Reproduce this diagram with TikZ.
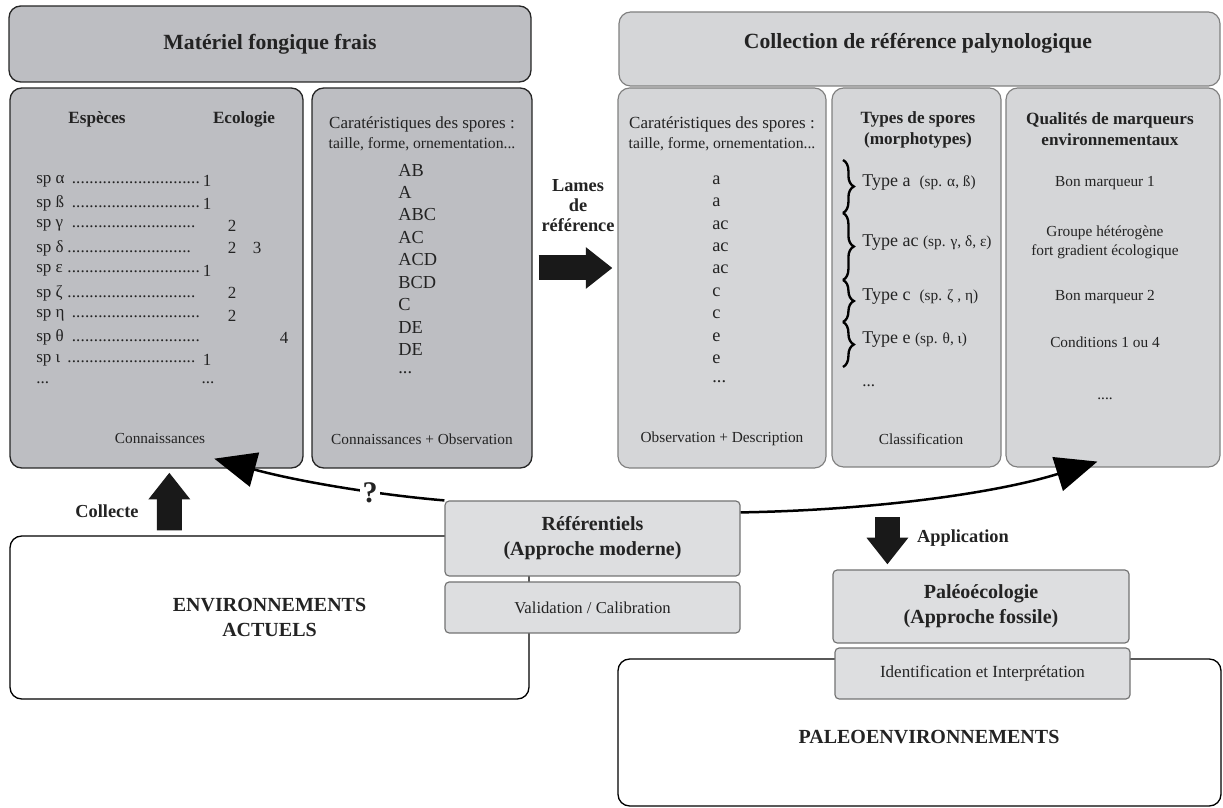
\documentclass[tikz,border=0pt]{standalone}
\usepackage{fontspec}
\setmainfont{Liberation Serif}
\usetikzlibrary{arrows.meta, positioning, calc, decorations.pathreplacing}

\definecolor{fungray}{RGB}{189,190,194}
\definecolor{palgray}{RGB}{213,214,216}
\definecolor{refgray}{RGB}{221,222,224}
\definecolor{inkgray}{RGB}{35,35,35}

\newcommand{\fsz}[2]{\fontsize{#1}{#2}\selectfont}
\newcommand{\pts}{\leaders\hbox to 0.26em{\hss.\hss}\hfill}

\begin{document}
\begin{tikzpicture}[x=0.6pt, y=-0.6pt,
    every node/.style={inner sep=0pt, text=inkgray},
    fungbox/.style={draw=black!85, fill=fungray, rounded corners=7pt, line width=0.8pt},
    palbox/.style={draw=black!50, fill=palgray, rounded corners=7pt, line width=0.7pt},
    refbox/.style={draw=black!55, fill=refgray, rounded corners=2.5pt, line width=0.7pt},
    envbox/.style={draw=black, fill=white, rounded corners=7pt, line width=0.8pt},
    blockarrow/.style={line width=15pt, draw=black!90, -{Triangle[length=16pt, width=24pt]}},
    curvearrow/.style={line width=1.5pt, -{Triangle[length=25pt, width=21pt]}},
    body/.style={font=\fsz{10.2}{13}},
    letters/.style={font=\fsz{11}{13}, anchor=west},
    smalltxt/.style={font=\fsz{9.2}{11.4}, align=center},
    hdtxt/.style={font=\bfseries\fsz{10.3}{12.6}, align=center},
    title/.style={font=\bfseries\fsz{13}{16}},
    bigtxt/.style={font=\bfseries\fsz{12}{15}, align=center},
    labtxt/.style={font=\bfseries\fsz{11}{12}, align=center}]
    \useasboundingbox (0,0) rectangle (1223,808);

    % en-tetes
    \node[fungbox, title, minimum width=313.2pt, minimum height=45.6pt] (hdrF) at (270,44) {Matériel fongique frais};
    \node[palbox, minimum width=360.6pt, minimum height=44.4pt] (hdrP) at (919.5,49) {};
    \node[title] (tP) at (918,43) {Collection de référence palynologique};

    % panneaux
    \node[fungbox, minimum width=175.8pt, minimum height=228pt] (pEsp) at (156.5,278) {};
    \node[fungbox, minimum width=132pt, minimum height=228pt] (pCarF) at (422,278) {};
    \node[palbox, minimum width=124.8pt, minimum height=228pt] (pCarP) at (722,278) {};
    \node[palbox, minimum width=101.4pt, minimum height=227.4pt] (pTyp) at (916.5,277.5) {};
    \node[palbox, minimum width=128.4pt, minimum height=227.4pt] (pQual) at (1113,277.5) {};

    % especes / ecologie
    \node[hdtxt] (esp) at (97,119) {Espèces};
    \node[hdtxt] (eco) at (244,119) {Ecologie};
    \foreach \g/\w/\n/\nx [count=\i] in {{sp α\ }/100.2/1/207, {sp ß\ }/100.2/1/207,
        {sp γ\ }/96.6/2/232, {sp δ}/95.4/2/232, {sp ε\ }/100.2/1/207,
        {sp ζ\ }/96.6/2/232, {sp η\ }/98.4/2/232, {sp θ\ }/98.4/4/284,
        {sp ι\ }/97.2/1/207} {
        \node[body, anchor=west] (sp\i) at (36,{181+(\i-1)*22.4}) {\hbox to \w pt{\g\pts}};
        \node[body] (n\i) at (\nx,{181+(\i-1)*22.4}) {\n};
    }
    \node[body] (n4b) at (257,{181+3*22.4}) {3};
    \node[body, anchor=west] (spx) at (36,382.6) {...};
    \node[body] (nx) at (208,382.6) {...};
    \node[smalltxt] (fEsp) at (160,439) {Connaissances};

    % caracteristiques (materiel frais)
    \node[body] (cF1) at (422,124) {Caratéristiques des spores :};
    \node[smalltxt, font=\fsz{9.4}{11}] (cF2) at (422,144) {taille, forme, ornementation...};
    \foreach \t [count=\i] in {AB, A, ABC, AC, ACD, BCD, C, DE, DE}
        \node[letters] (lF\i) at (398,{170+(\i-1)*22.5}) {\t};
    \node[letters] (lFx) at (398,372.5) {...};
    \node[smalltxt] (fCarF) at (422,439) {Connaissances + Observation};

    % caracteristiques (collection)
    \node[body] (cP1) at (722,124) {Caratéristiques des spores :};
    \node[smalltxt, font=\fsz{9.4}{11}] (cP2) at (722,144) {taille, forme, ornementation...};
    \foreach \t [count=\i] in {a, a, ac, ac, ac, c, c, e, e}
        \node[letters] (lP\i) at (712,{180+(\i-1)*22.4}) {\t};
    \node[letters] (lPx) at (712,381.6) {...};
    \node[smalltxt] (fCarP) at (722,439) {Observation + Description};

    % types de spores
    \node[hdtxt] (typ) at (918,129.5) {Types de spores\\(morphotypes)};
    \node[letters, font=\fsz{10.8}{13}] (ta) at (862,183) {Type a\ \ {\fsz{9.2}{10}(sp. α, ß)}};
    \node[letters, font=\fsz{10.8}{13}] (tac) at (862,243) {Type ac {\fsz{9.2}{10}(sp. γ, δ, ε)}};
    \node[letters, font=\fsz{10.8}{13}] (tc) at (862,297) {Type c\ \ {\fsz{9.2}{10}(sp. ζ , η)}};
    \node[letters, font=\fsz{10.8}{13}] (te) at (862,340) {Type e {\fsz{9.2}{10}(sp. θ, ι)}};
    \node[letters, font=\fsz{10.2}{13}] (tx) at (862,386) {...};
    \foreach \ya/\yb in {160/213, 213/280, 280/322, 322/367}
        \draw[line width=1.4pt, decorate, decoration={brace, amplitude=6.5pt}] (843,\ya) -- (843,\yb);
    \node[smalltxt] (fTyp) at (921,439) {Classification};

    % qualites de marqueurs
    \node[hdtxt] (qual) at (1110,129.5) {Qualités de marqueurs\\environnementaux};
    \node[smalltxt] (q1) at (1105,183) {Bon marqueur 1};
    \node[smalltxt] (q2) at (1105,242.5) {Groupe hétérogène\\fort gradient écologique};
    \node[smalltxt] (q3) at (1105,297) {Bon marqueur 2};
    \node[smalltxt] (q4) at (1105,342) {Conditions 1 ou 4};
    \node[smalltxt] (q5) at (1105,399) {....};

    % lames de reference
    \draw[blockarrow] ($(pCarF.east)+(6,-10)$) -- ($(pCarP.west)+(-5,-10)$);
    \node[labtxt] (lames) at (578,206) {Lames\\de\\référence};

    % environnements actuels
    \node[envbox, bigtxt, minimum width=311.4pt, minimum height=97.8pt] (env) at (269.5,617.5) {ENVIRONNEMENTS\\ACTUELS};
    \draw[blockarrow] ($(env.north west)+(160,-5)$) -- ($(pEsp.south west)+(160,4)$);
    \node[labtxt] (collecte) at (107,511) {Collecte};

    % referentiels
    \node[refbox, bigtxt, minimum width=177pt, minimum height=45pt] (ref) at (592.5,538.5) {Référentiels\\(Approche moderne)};
    \node[refbox, font=\fsz{10}{12}, minimum width=177pt, minimum height=30.6pt] (valid) at (592.5,607.5) {Validation / Calibration};

    \coordinate (qtip) at ($(pEsp.south west)+(205,-10)$);
    \coordinate (rtip) at ($(pQual.south west)+(92,-6)$);
    \draw[curvearrow] (ref.north west) .. controls (380,495) and (300,482) .. (qtip);
    \draw[curvearrow] ($(ref.north east)+(0,12)$) .. controls (880,510) and (1000,492) .. (rtip);
    \node[fill=white, inner sep=1.5pt, font=\bfseries\fsz{18}{18}] (qm) at (370,493) {?};

    % paleoecologie
    \node[refbox, bigtxt, minimum width=177.6pt, minimum height=43.8pt] (paleo) at (981,606.5) {Paléoécologie\\(Approche fossile)};
    \draw[blockarrow] ($(paleo.north west)+(55,-52)$) -- ($(paleo.north west)+(55,-5)$);
    \node[labtxt] (appli) at (963,538) {Application};
    \node[envbox, minimum width=361.8pt, minimum height=88.2pt] (pEnv) at (919.5,732.5) {};
    \node[bigtxt] (pEnvTxt) at (929,737) {PALEOENVIRONNEMENTS};
    \node[refbox, font=\fsz{10.2}{12}, minimum width=177pt, minimum height=30.6pt] (ident) at (982.5,673.5) {Identification et Interprétation};
\end{tikzpicture}
\end{document}
